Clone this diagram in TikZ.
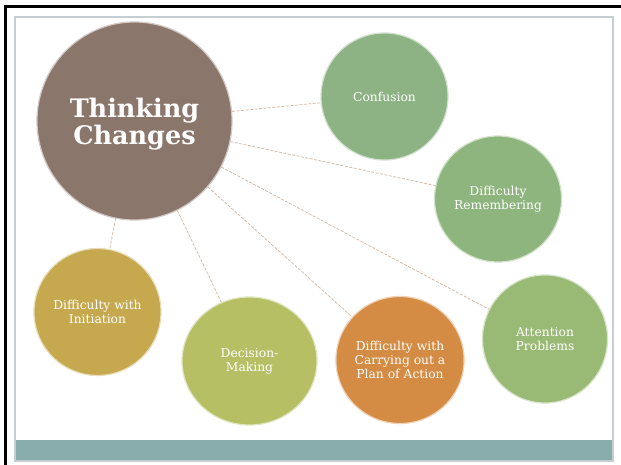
\documentclass[tikz,border=0pt]{standalone}
\usepackage{fontspec}
\setmainfont{DejaVu Serif}
\usetikzlibrary{shapes.geometric}
\definecolor{cbrown}{HTML}{8B766C}
\definecolor{cgreenA}{HTML}{8DB384}
\definecolor{cgreenB}{HTML}{8EB57E}
\definecolor{cgreenC}{HTML}{99BA74}
\definecolor{cmustard}{HTML}{C6A94E}
\definecolor{colive}{HTML}{B6BF64}
\definecolor{corange}{HTML}{D48B43}
\definecolor{cteal}{HTML}{88ADAC}
\definecolor{cframe}{HTML}{C5CED3}
\definecolor{clink}{HTML}{D2B49F}
\tikzset{
  bubble/.style={ellipse, inner sep=0pt, draw=white!60!#1, line width=1.2pt, fill=#1,
    text=white, align=center, font=\fontsize{12.3}{14}\selectfont},
  link/.style={draw=clink, line width=0.7pt, dash pattern=on 3pt off 1.5pt},
}
\begin{document}
\begin{tikzpicture}[x=1pt,y=-1pt]
\useasboundingbox (0,0) rectangle (621,465);
\fill[white] (0,0) rectangle (621,465);
% outer black edges
\draw[black, line width=3pt] (5.5,465) -- (5.5,6.5) -- (621,6.5);
% inner frame and band
\fill[cteal] (15,440) rectangle (613,461);
\draw[cframe, line width=1.2pt] (15,17) rectangle (613,461);
% bubbles
\node[bubble=cbrown, minimum width=195pt, minimum height=198pt,
      font=\fontsize{25.5}{26}\selectfont\bfseries] (main) at (134.5,121)
      {\raisebox{-4pt}[\dimexpr\height+4pt\relax][\dimexpr\depth+4pt\relax]{\begin{tabular}{@{}c@{}}Thinking\\Changes\end{tabular}}};
\node[bubble=cgreenA, minimum width=127pt, minimum height=127pt] (conf) at (384.5,96.5) {Confusion};
\node[bubble=cgreenB, minimum width=127pt, minimum height=126pt] (rem) at (498,199) {Difficulty\\Remembering};
\node[bubble=cmustard, minimum width=127pt, minimum height=127pt] (init) at (97.5,312) {Difficulty with\\Initiation};
\node[bubble=colive, minimum width=135pt, minimum height=128pt] (dec) at (249.5,361) {Decision-\\Making};
\node[bubble=corange, minimum width=127pt, minimum height=127pt] (plan) at (400,360) {Difficulty with\\Carrying out a\\Plan of Action};
\node[bubble=cgreenC, minimum width=125pt, minimum height=128pt] (att) at (545,339) {Attention\\Problems};
% connectors
\draw[link] (main) -- (conf);
\draw[link] (main) -- (rem);
\draw[link] (main) -- (att);
\draw[link] (main) -- (plan);
\draw[link] (main) -- (dec);
\draw[link] (main) -- (init);
\end{tikzpicture}
\end{document}
